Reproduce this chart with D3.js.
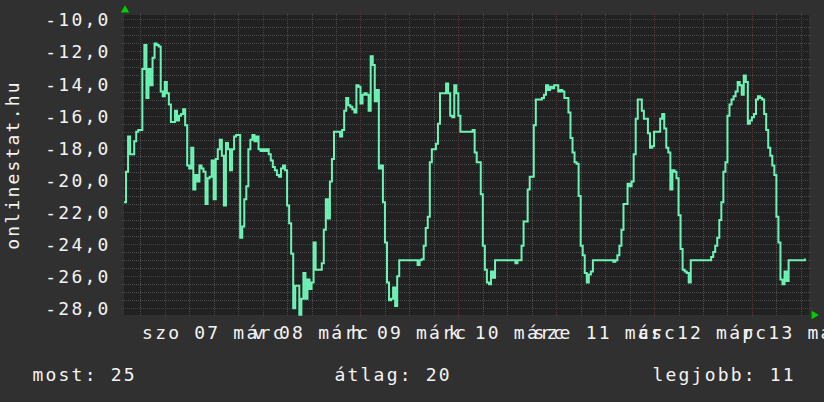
<!DOCTYPE html>
<html><head><meta charset="utf-8">
<script src="https://cdn.jsdelivr.net/npm/d3@7"></script>
<style>
html,body{margin:0;padding:0;background:#303030;}
svg{display:block;}
text{font-family:"DejaVu Sans Mono",monospace;fill:#f4f4f4;}
</style></head><body>
<svg id="chart" width="824" height="402"></svg>
<script>
// ---- data ----
const startTime = Date.UTC(2015, 2, 6, 14, 0);   // first sample
const endTime = Date.UTC(2015, 2, 13, 14, 0);    // graph end
const stepMinutes = 30;
const values = [
-21.4,-19.5,-17.3,-18.4,-18.4,-17.6,-17.0,-16.9,-16.9,-13.1,
-11.6,-14.9,-13.1,-14.1,-12.4,-11.5,-11.6,-11.7,-14.5,-14.8,
-13.9,-14.6,-15.3,-16.4,-16.4,-15.7,-16.3,-16.0,-15.9,-15.6,
-16.6,-19.1,-19.3,-18.0,-20.6,-19.7,-20.1,-19.1,-19.3,-19.5,
-21.5,-19.9,-19.8,-18.8,-21.2,-18.7,-18.1,-17.5,-18.5,-21.6,
-17.7,-18.1,-19.4,-18.1,-17.3,-17.2,-17.2,-23.6,-22.9,-21.2,
-20.4,-18.1,-17.5,-17.2,-17.6,-17.3,-18.1,-18.2,-18.1,-18.2,
-18.1,-18.4,-18.8,-19.2,-19.4,-19.7,-19.8,-19.3,-19.1,-19.4,
-21.6,-22.7,-24.6,-28.0,-26.6,-26.6,-28.4,-27.4,-25.8,-27.4,
-26.2,-26.8,-26.4,-23.9,-25.6,-25.6,-25.6,-25.2,-23.1,-21.2,
-22.4,-20.1,-18.7,-17.0,-17.0,-17.0,-17.3,-16.9,-15.7,-14.9,
-15.35,-15.45,-15.6,-15.8,-14.1,-14.2,-15.25,-14.7,-14.6,-14.7,
-15.7,-12.3,-12.85,-15.1,-14.4,-19.3,-19.1,-21.4,-23.9,-26.4,
-27.5,-27.4,-26.7,-27.85,-26.0,-25,-25,-25,-25,-25,
-25,-25,-25,-25,-25.3,-25,-24.95,-24.1,-23.0,-22.3,
-18.9,-18.1,-18.1,-17.75,-16.5,-14.6,-14.6,-14.6,-14.0,-14.6,
-16.0,-16.1,-14.1,-14.6,-16.0,-17.0,-17.0,-17.0,-17.0,-17.0,
-17.0,-16.9,-18.3,-18.9,-18.9,-20.9,-24.1,-25.6,-26.4,-26.5,
-25.7,-26.1,-25,-25,-25,-25,-25,-25,-25,-25,
-25,-25,-25.2,-25,-25,-24.1,-22.6,-22.6,-20.6,-19.8,
-19.8,-16.6,-15.0,-15.0,-15.0,-14.9,-14.7,-14.1,-14.4,-14.2,
-14.3,-14.1,-14.1,-14.5,-14.4,-14.5,-14.9,-14.9,-15.8,-17.4,
-18.3,-18.9,-19.0,-21.0,-24.1,-24.7,-25.8,-26.4,-25.9,-25.7,
-25,-25,-25,-25,-25,-25,-25,-25,-25,-25,
-25.1,-25,-24.7,-24.1,-23.1,-21.5,-21.5,-20.25,-20.4,-20.1,
-18.4,-16.2,-15.0,-15.0,-15.7,-16.2,-16.2,-17.1,-18.0,-17.9,
-17.0,-17.0,-17.0,-16.2,-15.9,-16.8,-18.0,-18.3,-20.6,-19.4,
-19.5,-19.9,-22.2,-24.3,-25.6,-25.7,-25.8,-26.4,-25,-25,
-25,-25,-25,-25,-25,-25,-25,-25,-24.8,-24.5,
-24.1,-23.6,-22.5,-21.4,-19.5,-18.9,-16.0,-15.3,-15.0,-14.8,
-14.5,-13.9,-14.1,-14.7,-13.5,-13.9,-16.5,-16.3,-16.1,-15.9,
-15.0,-14.8,-14.9,-15.0,-15.9,-16.9,-18.0,-18.5,-19.1,-19.7,
-22.3,-23.9,-26.2,-26.5,-25.7,-26.3,-25,-25,-25,-25,
-25,-25,-25,-25,-24.9
];
const yDomain = [-28.417, -9.732];
const yMajorTicks = [-28, -26, -24, -22, -20, -18, -16, -14, -12, -10];
const xTickLabels = ["szo 07 márc", "v 08 márc", "h 09 márc", "k 10 márc",
                     "sze 11 márc", "cs 12 márc", "p 13 márc"];
const yTitle = "onlinestat.hu";
const legendNames = ["most", "átlag", "legjobb"];
const legendValues = [25, 20, 11];

// ---- layout ----
const W = 824, H = 402;
const plot = {left: 124, right: 809, top: 15, bottom: 315};
const LS = 2.2; // letter spacing
const svg = d3.select("#chart");
svg.append("rect").attr("width", W).attr("height", H).attr("fill", "#303030");
svg.append("rect").attr("x", plot.left).attr("y", plot.top)
  .attr("width", plot.right - plot.left).attr("height", plot.bottom - plot.top)
  .attr("fill", "#212121");

const x = d3.scaleUtc().domain([new Date(startTime), new Date(endTime)]).range([plot.left, plot.right]);
const y = d3.scaleLinear().domain(yDomain).range([plot.bottom, plot.top]);

const loc = d3.formatLocale({decimal: ",", thousands: " ", grouping: [3], currency: ["", ""], minus: "-"});
const fmt = loc.format(".1f");

// grid
const g = svg.append("g").attr("shape-rendering", "crispEdges");
const minorY = d3.range(-28.0, -9.9, 0.5).filter(v => v % 2 !== 0);
const minorX = d3.utcHour.every(6).range(x.domain()[0], x.domain()[1]).filter(d => d.getUTCHours() !== 0);
const majorX = d3.utcDay.range(x.domain()[0], x.domain()[1]);
const minorColor = "#4c4c4c", majorColor = "#5e3434";

g.selectAll(".mny").data(minorY).join("line")
  .attr("x1", plot.left - 2).attr("x2", plot.right + 2)
  .attr("y1", d => Math.round(y(d)) + 0.5).attr("y2", d => Math.round(y(d)) + 0.5)
  .attr("stroke", minorColor).attr("stroke-dasharray", "1,1");
g.selectAll(".mnx").data(minorX).join("line")
  .attr("x1", d => Math.round(x(d)) + 0.5).attr("x2", d => Math.round(x(d)) + 0.5)
  .attr("y1", plot.top - 2).attr("y2", plot.bottom + 2)
  .attr("stroke", minorColor).attr("stroke-dasharray", "1,1");
g.selectAll(".mjy").data(yMajorTicks).join("line")
  .attr("x1", plot.left - 3).attr("x2", plot.right + 3)
  .attr("y1", d => Math.round(y(d)) + 0.5).attr("y2", d => Math.round(y(d)) + 0.5)
  .attr("stroke", majorColor).attr("stroke-dasharray", "1,1");
g.selectAll(".mjx").data(majorX).join("line")
  .attr("x1", d => Math.round(x(d)) + 0.5).attr("x2", d => Math.round(x(d)) + 0.5)
  .attr("y1", plot.top - 3).attr("y2", plot.bottom + 3)
  .attr("stroke", majorColor).attr("stroke-dasharray", "1,1");

// y labels
svg.append("g").selectAll("text").data(yMajorTicks).join("text")
  .attr("x", 110.5).attr("y", d => y(d) + 7)
  .attr("text-anchor", "end").attr("font-size", 18).attr("letter-spacing", LS)
  .text(d => fmt(d));

// x labels centred at noon of each day
const noons = majorX.map(d => d3.utcHour.offset(d, 12));
svg.append("g").selectAll("text").data(noons).join("text")
  .attr("x", d => x(d) + LS / 2 - 1).attr("y", 338.5)
  .attr("text-anchor", "middle").attr("font-size", 18).attr("letter-spacing", LS)
  .text((d, i) => xTickLabels[i]);

// y title
svg.append("text").attr("transform", "translate(18.5,165) rotate(-90)")
  .attr("text-anchor", "middle").attr("font-size", 18).attr("letter-spacing", LS)
  .text(yTitle);

// line
const pts = values.map((v, i) => ({t: new Date(startTime + i * stepMinutes * 60000), v}));
const line = d3.line().x(d => x(d.t)).y(d => y(d.v)).curve(d3.curveStepAfter);
svg.append("path").datum(pts).attr("d", line)
  .attr("fill", "none").attr("stroke", "#6ef3b6").attr("stroke-width", 2)
  .attr("stroke-linejoin", "miter");

// arrows
svg.append("path").attr("d", d3.symbol(d3.symbolTriangle, 30)())
  .attr("transform", `translate(${plot.left + 1},${plot.top - 5})`).attr("fill", "#00d000");
svg.append("path").attr("d", d3.symbol(d3.symbolTriangle, 30)())
  .attr("transform", `translate(${plot.right + 5},${plot.bottom}) rotate(90)`).attr("fill", "#00d000");

// legend
const legX = [32.5, 334.5, 652.5];
svg.append("g").selectAll("text").data(legendNames).join("text")
  .attr("x", (d, i) => legX[i]).attr("y", 380.5)
  .attr("font-size", 18).attr("letter-spacing", LS)
  .text((d, i) => `${d}: ${legendValues[i]}`);
</script>
</body></html>
